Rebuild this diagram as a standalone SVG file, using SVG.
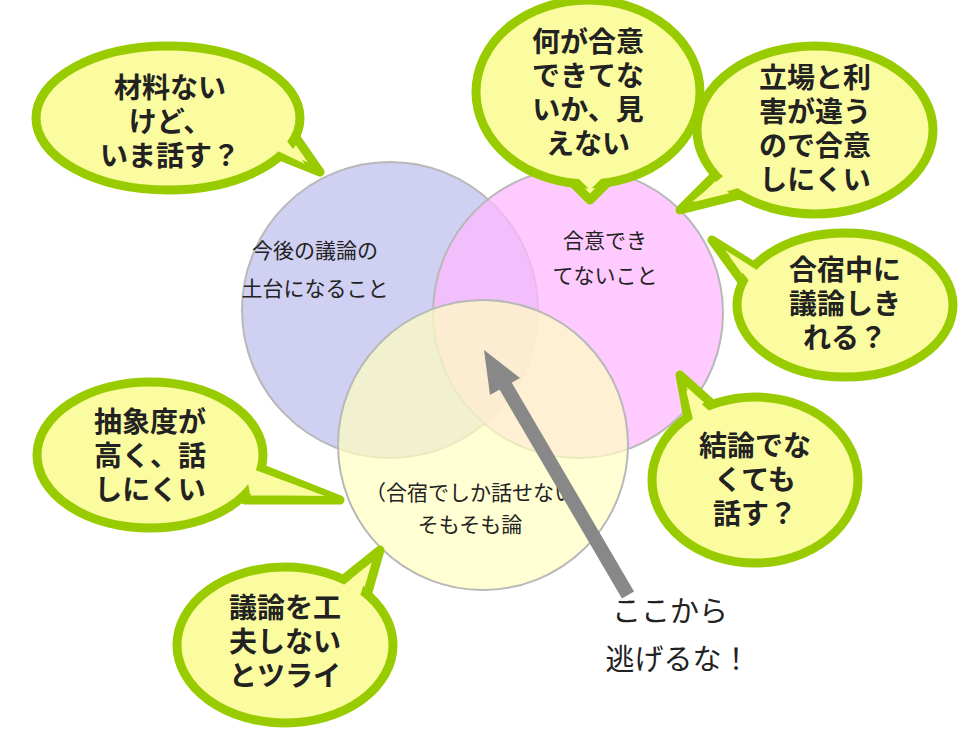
<svg xmlns="http://www.w3.org/2000/svg" width="980" height="735" viewBox="0 0 980 735">
<style>
.c{stroke:#b8b8b8;stroke-width:2}
.b{fill:#fbfba0;stroke:#99cc00;stroke-width:9;stroke-linejoin:round}
.bf{fill:#fbfba0}
.t{font-family:"Noto Sans CJK JP",sans-serif;font-weight:bold;font-size:28px;fill:#222;text-anchor:middle}
.n{font-family:"Noto Sans CJK JP",sans-serif;font-size:21px;fill:#222;text-anchor:middle}
.a{font-family:"Noto Sans CJK JP",sans-serif;font-size:29px;fill:#222;text-anchor:middle}
</style>
<rect width="980" height="735" fill="#fff"/>
<g id="circles">
<circle class="c" cx="390" cy="310" r="148" fill="#c8c8f0" fill-opacity="0.85"/>
<circle class="c" cx="578" cy="313" r="145" fill="#ffb8ff" fill-opacity="0.75"/>
<circle class="c" cx="483" cy="445" r="145" fill="#ffffc0" fill-opacity="0.7"/>
<text class="n" x="315" y="258">今後の議論の</text><text class="n" x="315" y="296">土台になること</text>
<text class="n" x="605" y="248">合意でき</text><text class="n" x="605" y="283">てないこと</text>
<text class="n" x="470" y="500">（合宿でしか話せない</text><text class="n" x="470" y="532">そもそも論</text>
</g>
<g id="connectors">
<line x1="628" y1="595" x2="505" y2="385" stroke="#888" stroke-width="14"/>
<polygon points="484,350 520,378 490,395" fill="#888"/>
</g>
<g id="b1"><polygon class="b" points="240,140 320,172 270,100"/><ellipse class="b" cx="168" cy="118" rx="132" ry="72"/><polygon class="bf" points="246,136 305,164 262,110"/>
<text class="t" x="170" y="98">材料ない</text><text class="t" x="170" y="132">けど、</text><text class="t" x="170" y="166">いま話す？</text></g>
<g id="b2"><polygon class="b" points="560,170 590,200 620,170"/><ellipse class="b" cx="588" cy="92" rx="112" ry="92"/><polygon class="bf" points="568,168 590,190 612,168"/>
<text class="t" x="588" y="52">何が合意</text><text class="t" x="588" y="86">できてな</text><text class="t" x="588" y="120">いか、見</text><text class="t" x="588" y="154">えない</text></g>
<g id="b3"><polygon class="b" points="740,150 680,210 760,190"/><ellipse class="b" cx="815" cy="130" rx="118" ry="84"/><polygon class="bf" points="745,158 692,202 758,182"/>
<text class="t" x="815" y="88">立場と利</text><text class="t" x="815" y="122">害が違う</text><text class="t" x="815" y="156">ので合意</text><text class="t" x="815" y="190">しにくい</text></g>
<g id="b4"><polygon class="b" points="760,270 712,240 770,320"/><ellipse class="b" cx="845" cy="305" rx="108" ry="72"/><polygon class="bf" points="765,275 725,250 772,310"/>
<text class="t" x="845" y="280">合宿中に</text><text class="t" x="845" y="314">議論しき</text><text class="t" x="845" y="348">れる？</text></g>
<g id="b5"><polygon class="b" points="690,430 680,375 730,420"/><ellipse class="b" cx="755" cy="480" rx="103" ry="83"/><polygon class="bf" points="695,428 686,390 725,425"/>
<text class="t" x="755" y="456">結論でな</text><text class="t" x="755" y="490">くても</text><text class="t" x="755" y="524">話す？</text></g>
<g id="b6"><polygon class="b" points="240,460 340,500 245,500"/><ellipse class="b" cx="150" cy="455" rx="113" ry="73"/><polygon class="bf" points="245,466 325,496 250,494"/>
<text class="t" x="150" y="432">抽象度が</text><text class="t" x="150" y="466">高く、話</text><text class="t" x="150" y="500">しにくい</text></g>
<g id="b7"><polygon class="b" points="330,590 380,550 360,620"/><ellipse class="b" cx="285" cy="645" rx="108" ry="78"/><polygon class="bf" points="335,592 370,564 355,612"/>
<text class="t" x="285" y="618">議論を工</text><text class="t" x="285" y="652">夫しない</text><text class="t" x="285" y="686">とツライ</text></g>
<g id="label"><text class="a" x="670" y="622">ここから</text><text class="a" x="678" y="670">逃げるな！</text></g>
</svg>
